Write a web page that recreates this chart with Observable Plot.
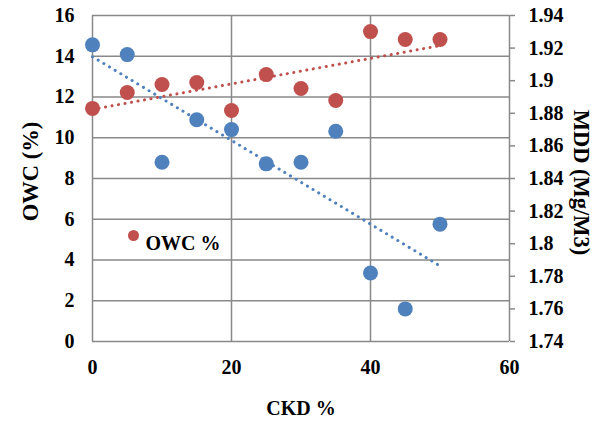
<!DOCTYPE html>
<html><head><meta charset="utf-8">
<script src="https://cdn.jsdelivr.net/npm/d3@7"></script>
<script src="https://cdn.jsdelivr.net/npm/@observablehq/plot@0.6"></script>
<style>
body{margin:0;background:#fff}
#chart svg text{font-family:"Liberation Serif",serif !important;font-weight:bold !important;font-size:20px !important;fill:#000}
#chart svg g.ytitle text{font-size:22.5px !important}
</style>
</head><body><div id="chart"></div>
<script>
const ckd = [0, 5, 10, 15, 20, 25, 30, 35, 40, 45, 50];
const owc = [11.44, 12.22, 12.61, 12.71, 11.34, 13.1, 12.42, 11.83, 15.21, 14.82, 14.82];
const mdd = [1.922, 1.916, 1.850, 1.876, 1.870, 1.849, 1.850, 1.869, 1.782, 1.760, 1.812];
const leftTicks = [0, 2, 4, 6, 8, 10, 12, 14, 16];
const rightTicks = [1.74, 1.76, 1.78, 1.8, 1.82, 1.84, 1.86, 1.88, 1.9, 1.92, 1.94];
const xTicks = [0, 20, 40, 60];

const rMin = 1.74, rMax = 1.94, lMax = 16;
const toLeft = v => (v - rMin) / (rMax - rMin) * lMax;
const owcData = ckd.map((x, i) => ({x, y: owc[i]}));
const mddData = ckd.map((x, i) => ({x, y: toLeft(mdd[i])}));

const RED = "#C0504D", BLUE = "#4F81BD", GRID = "#898989";

const chart = Plot.plot({
  width: 594, height: 425,
  marginLeft: 92, marginRight: 85, marginTop: 15, marginBottom: 84,
  style: {background: "#fff", color: "#000"},
  x: {domain: [0, 60]},
  y: {domain: [0, 16]},
  marks: [
    Plot.gridY(leftTicks, {stroke: GRID, strokeOpacity: 1, strokeWidth: 1.5}),
    Plot.gridX(xTicks, {stroke: GRID, strokeOpacity: 1, strokeWidth: 1.5}),
    Plot.axisY(leftTicks, {anchor: "left", tickSize: 0, tickPadding: 18, label: null}),
    Plot.axisY(rightTicks.map(toLeft), {anchor: "right", tickSize: 5, tickPadding: 14, stroke: GRID, strokeWidth: 1.5, label: null,
      tickFormat: v => String(+(rMin + v / lMax * (rMax - rMin)).toFixed(2))}),
    Plot.axisX(xTicks, {anchor: "bottom", tickSize: 0, tickPadding: 18, label: null}),
    Plot.linearRegressionY(mddData, {x: "x", y: "y", ci: 0, stroke: BLUE, strokeWidth: 3, strokeDasharray: "0.1 6.5", strokeLinecap: "round"}),
    Plot.linearRegressionY(owcData, {x: "x", y: "y", ci: 0, stroke: RED, strokeWidth: 3, strokeDasharray: "0.1 6.5", strokeLinecap: "round"}),
    Plot.dot(mddData, {x: "x", y: "y", r: 7.5, fill: BLUE}),
    Plot.dot(owcData, {x: "x", y: "y", r: 7.5, fill: RED}),
    Plot.dot([0], {frameAnchor: "top-left", dx: 41, dy: 220, r: 5.5, fill: RED}),
    Plot.text(["OWC %"], {frameAnchor: "top-left", dx: 53, dy: 220, textAnchor: "start", fill: "#000"}),
    Plot.text(["OWC (%)"], {frameAnchor: "top-left", dx: -70, dy: 156, rotate: -90, textAnchor: "middle", fill: "#000", className: "ytitle"}),
    Plot.text(["MDD (Mg/M3)"], {frameAnchor: "top-right", dx: 80, dy: 167, rotate: 90, textAnchor: "middle", fill: "#000", className: "ytitle"}),
    Plot.text(["CKD %"], {frameAnchor: "bottom", dy: 73, fill: "#000"})
  ]
});
document.getElementById("chart").appendChild(chart);
</script>
</body></html>
